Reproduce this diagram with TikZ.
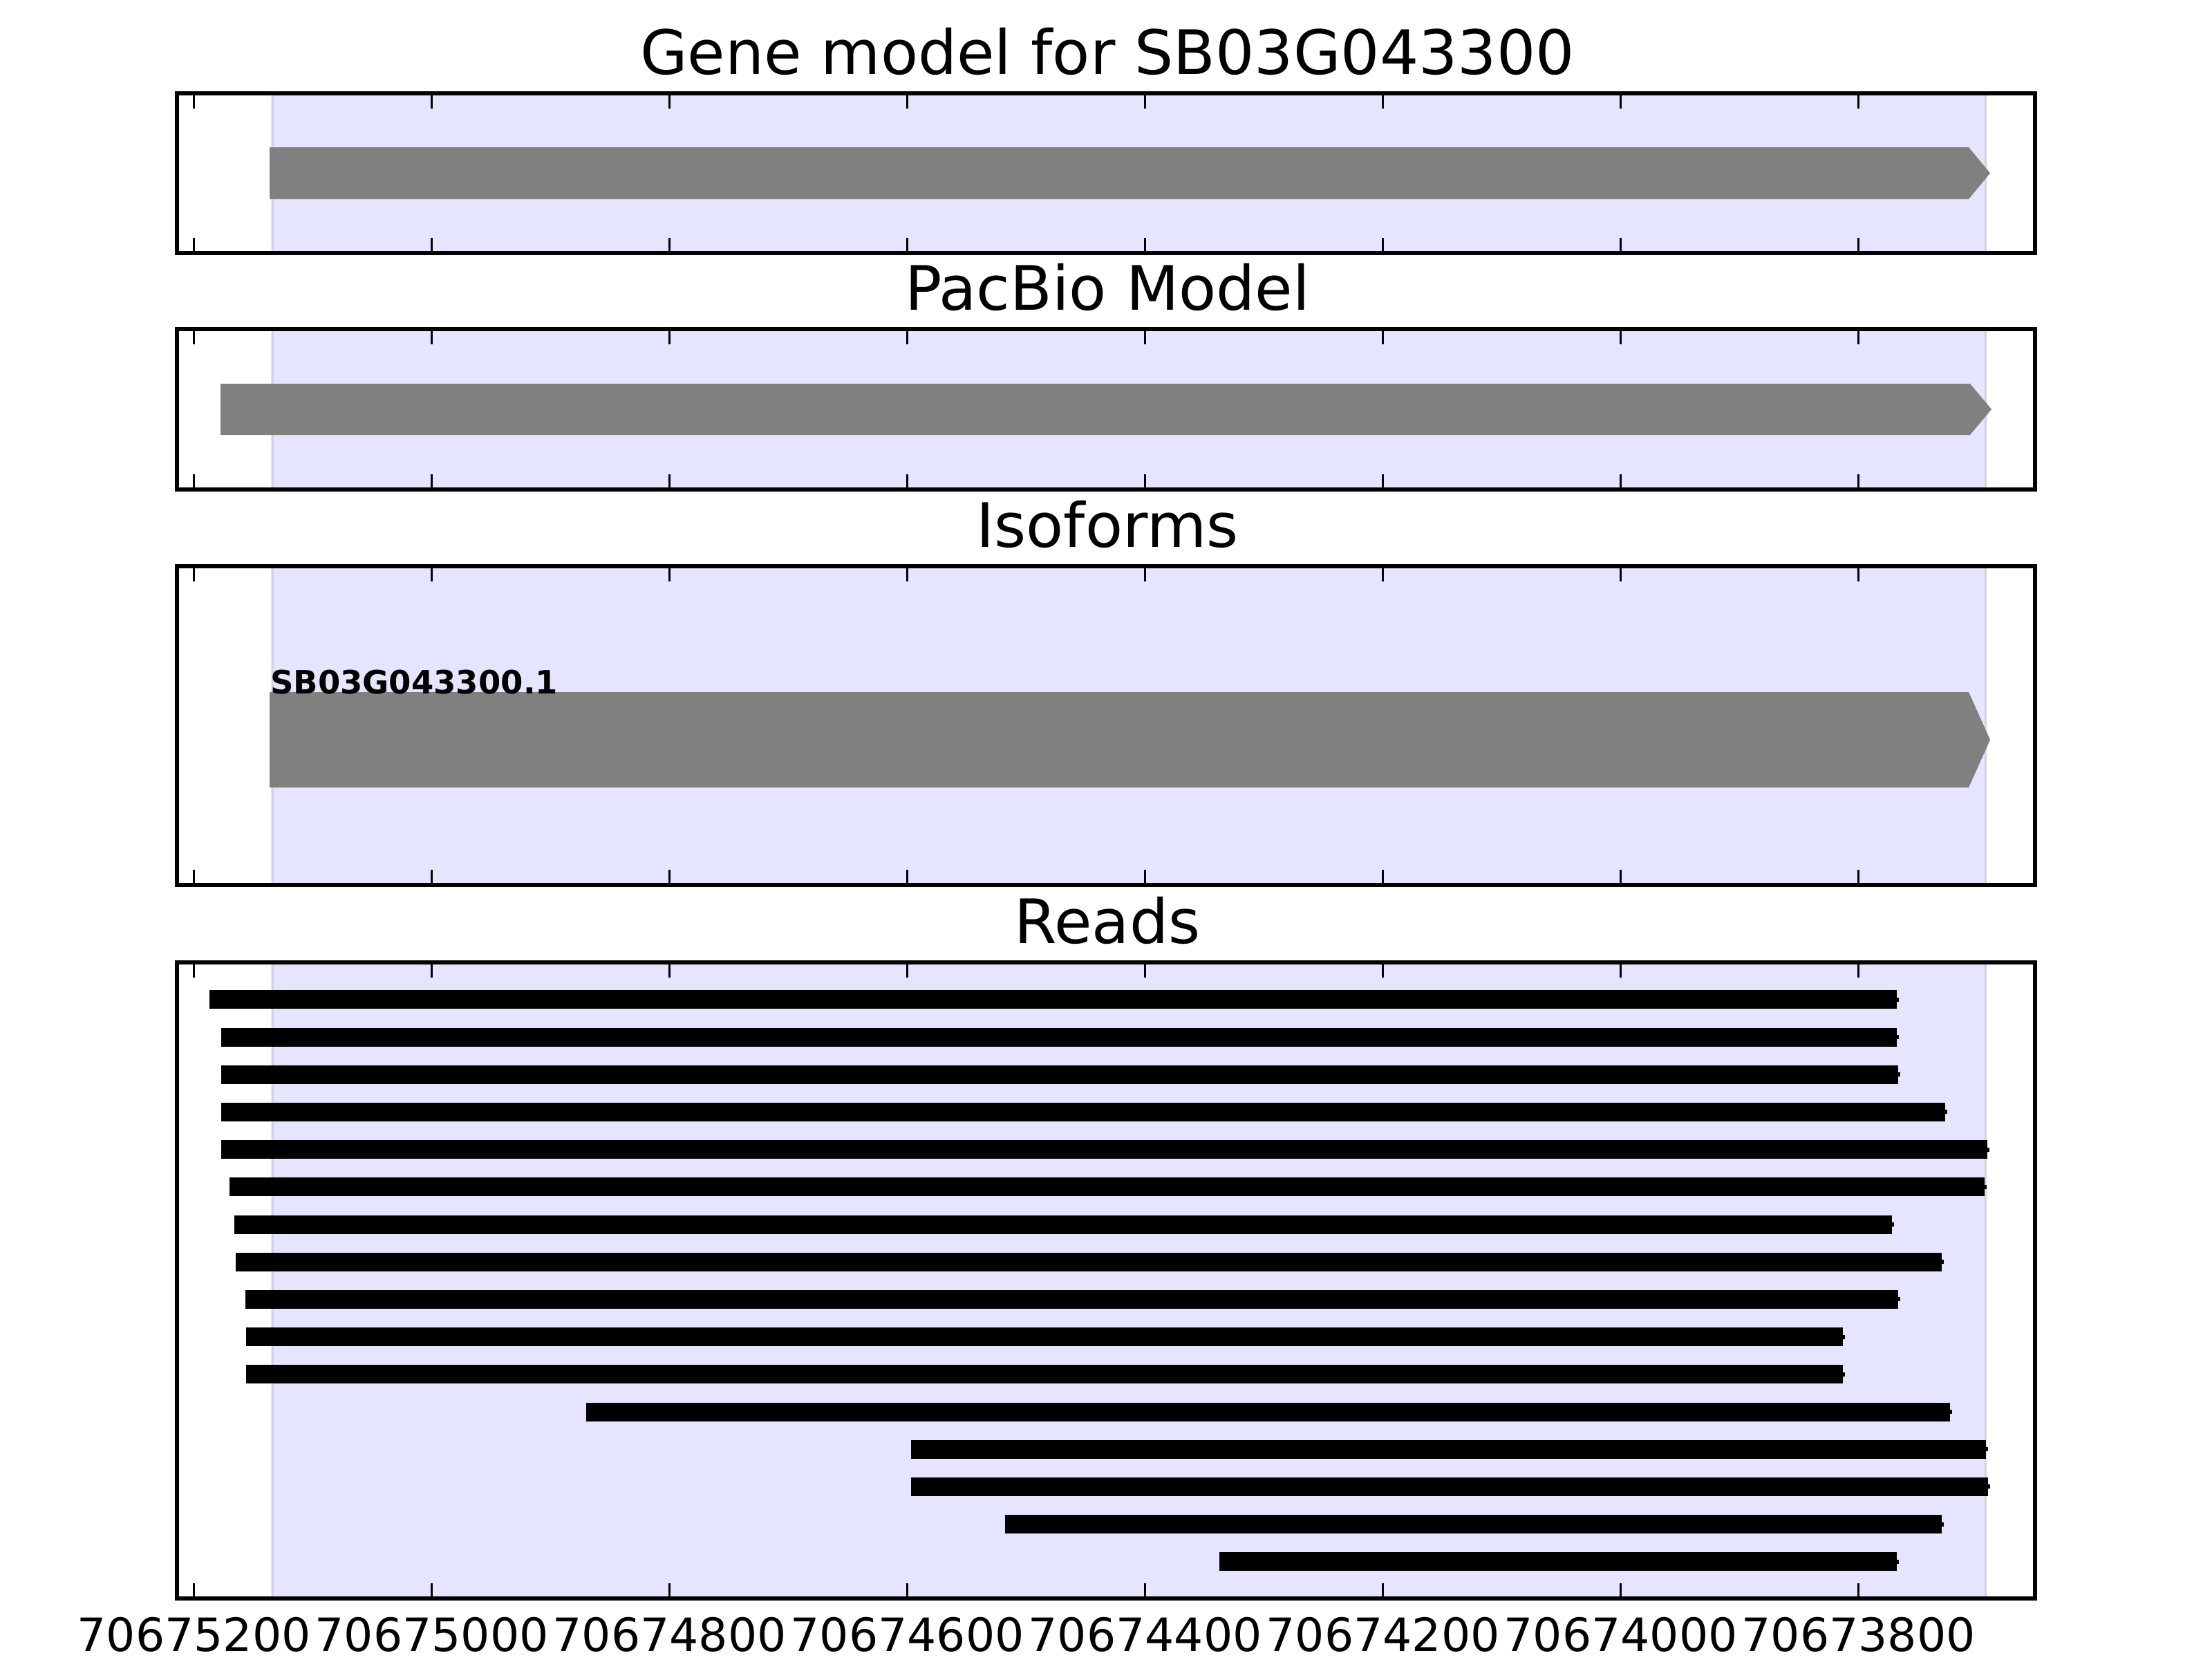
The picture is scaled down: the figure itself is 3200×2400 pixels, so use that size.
\documentclass[tikz,border=0pt]{standalone}
\usepackage{fontspec}
\setmainfont{DejaVu Sans}
\tikzset{
  frame/.style={line width=1pt},
  tickmark/.style={line width=0.5pt},
  span/.style={fill=blue, fill opacity=0.1, draw=black, draw opacity=0.1, line width=0.6pt},
  model/.style={fill=gray},
  readbar/.style={fill=black},
  paneltitle/.style={anchor=base, inner sep=0pt, font=\fontsize{16}{19}\selectfont},
  ticklabel/.style={anchor=base, inner sep=0pt, font=\fontsize{12}{14}\selectfont},
}
\begin{document}
\begin{tikzpicture}[x=0.0635mm, y=-0.0635mm]
\useasboundingbox (0,0) rectangle (3200,2400);
% shaded gene span behind every panel
\foreach \top/\bot in {135/366, 476/708, 819/1280, 1392/2312}
  \filldraw[span] (394,\top) rectangle (2873,\bot);
% titles
\node[paneltitle] (t_gene) at (1602,107) {Gene model for SB03G043300};
\node[paneltitle] (t_pacbio) at (1602,448) {PacBio Model};
\node[paneltitle] (t_iso) at (1602,791) {Isoforms};
\node[paneltitle] (t_reads) at (1602,1364) {Reads};
% gene models
\fill[model] (390,213) -- (2848,213) -- (2879,250.5) -- (2848,288) -- (390,288) -- cycle;
\fill[model] (319,555) -- (2850,555) -- (2881,592) -- (2850,629) -- (319,629) -- cycle;
\fill[model] (390,1001) -- (2848,1001) -- (2879,1070) -- (2848,1139) -- (390,1139) -- cycle;
\node[anchor=base west, inner sep=0pt, font=\bfseries\fontsize{8.4}{10}\selectfont] (iso_1) at (390,1003) {SB03G043300.1};
% reads
\foreach \l/\r [count=\i from 0] in {303/2744, 320/2744, 320/2746, 320/2814, 320/2875, 332/2871,
    339/2737, 341/2809, 355/2746, 356/2666, 356/2666, 848/2821, 1318/2873, 1318/2876,
    1454/2809, 1764/2744} {
  \pgfmathsetmacro\yy{1445.8+54.2*\i}
  \fill[readbar] (\l,\yy-13.5) rectangle (\r,\yy+13.5);
  \fill[readbar] (\r,\yy-3) rectangle ({\r+2.5},\yy+3);
}
% frames and ticks
\foreach \top/\bot in {135/366, 476/708, 819/1280, 1392/2312} {
  \draw[frame] (256,\top) rectangle (2944,\bot);
  \foreach \k in {0,...,7} {
    \pgfmathsetmacro\tx{280.7+344*\k}
    \draw[tickmark] (\tx,\top) -- ++(0,22);
    \draw[tickmark] (\tx,\bot) -- ++(0,-22);
  }
}
% axis labels
\foreach \v [count=\k from 0] in {70675200,70675000,70674800,70674600,70674400,70674200,70674000,70673800}
  \node[ticklabel] (lab_\k) at (280.7+344*\k,2388) {\v};
\end{tikzpicture}
\end{document}
